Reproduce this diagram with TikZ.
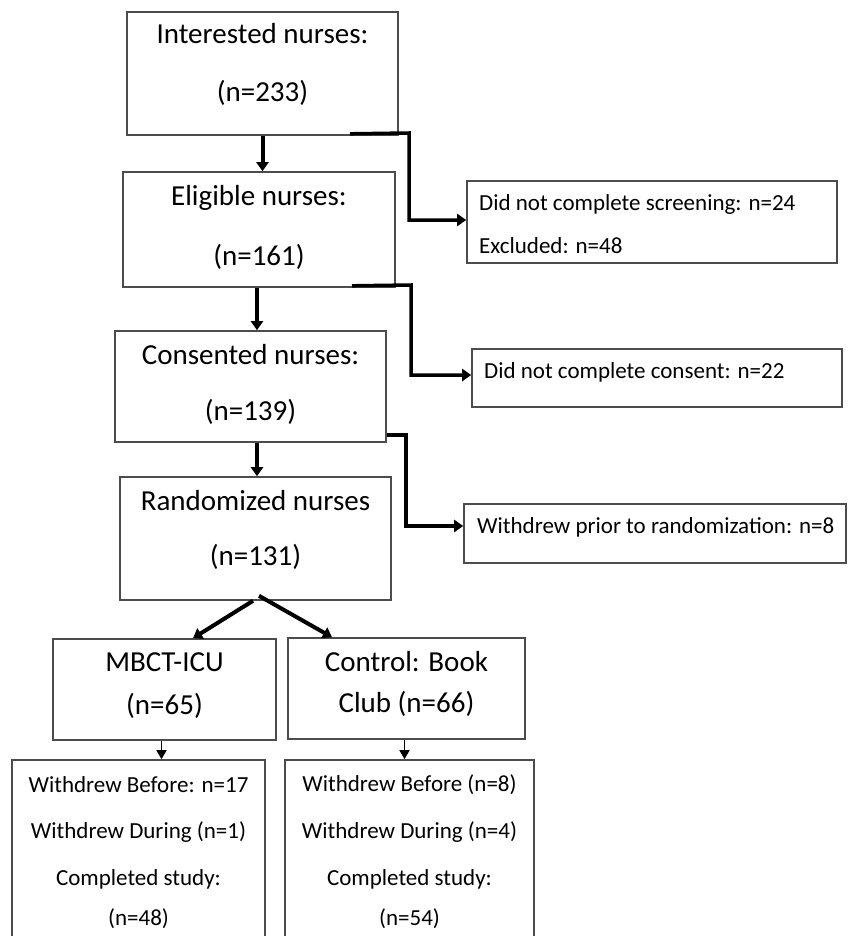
\documentclass[tikz,border=0pt]{standalone}
\usepackage{fontspec}
\setmainfont{Carlito}
\usetikzlibrary{arrows.meta}
\newcommand{\lgfont}{\fontsize{29}{35}\selectfont}
\newcommand{\smfont}{\fontsize{23}{28}\selectfont}
\tikzset{
  box/.style={draw=black!70, line width=1.6pt, rectangle, inner sep=0pt},
  lg/.style={font=\lgfont, inner sep=0pt, text height=16.4pt, text depth=0pt},
  sm/.style={font=\smfont, inner sep=0pt, text height=17.6pt, text depth=0pt},
  arr/.style={line width=4pt, -{Triangle[length=9pt,width=12pt]}},
  elb/.style={line width=3.5pt, -{Triangle[length=9pt,width=12pt]}},
  sarr/.style={line width=1.4pt, -{Triangle[length=9pt,width=10pt]}}
}
\begin{document}
\begin{tikzpicture}[x=1pt,y=-1pt]
\useasboundingbox (0,0) rectangle (848,936);
\fill[white] (0,0) rectangle (848,936);
\clip (0,0) rectangle (848,936);

% main column boxes
\node[box, minimum width=271pt, minimum height=123pt] (b1) at (262.5,73.5) {};
\node[box, minimum width=272pt, minimum height=115pt] (b2) at (259,229.5) {};
\node[box, minimum width=271pt, minimum height=111pt] (b3) at (250.5,386.5) {};
\node[box, minimum width=271pt, minimum height=123pt] (b4) at (255.5,538.5) {};

% side boxes
\node[box, minimum width=370pt, minimum height=82pt] (r1) at (652,222) {};
\node[box, minimum width=370pt, minimum height=58pt] (r2) at (657,378) {};
\node[box, minimum width=382pt, minimum height=59pt] (r3) at (655,533.5) {};

% arms
\node[box, minimum width=223pt, minimum height=101pt] (m) at (164.5,689.5) {};
\node[box, minimum width=237pt, minimum height=101pt] (c) at (406.5,688.5) {};
\node[box, minimum width=253pt, minimum height=185pt] (bl) at (138.5,852.5) {};
\node[box, minimum width=249pt, minimum height=185pt] (br) at (409.5,852.5) {};

% texts
\node[lg] (t1a) at (262.5,35) {Interested nurses:};
\node[lg] (t1b) at (262.5,93) {(n=233)};
\node[lg] (t2a) at (259,197) {Eligible nurses:};
\node[lg] (t2b) at (259,257) {(n=161)};
\node[lg] (t3a) at (250.5,356) {Consented nurses:};
\node[lg] (t3b) at (250.5,412) {(n=139)};
\node[lg] (t4a) at (255.5,502) {Randomized nurses};
\node[lg] (t4b) at (255.5,557) {(n=131)};

\node[sm, anchor=west] (s1a) at (479,202) {Did not complete screening: n=24};
\node[sm, anchor=west] (s1b) at (479,245) {Excluded: n=48};
\node[sm, anchor=west] (s2a) at (484,370) {Did not complete consent: n=22};
\node[sm, anchor=west] (s3a) at (477,525) {Withdrew prior to randomization: n=8};

\node[lg] (tma) at (164.5,663) {MBCT-ICU};
\node[lg] (tmb) at (164.5,706) {(n=65)};
\node[lg] (tca) at (406.5,663) {Control: Book};
\node[lg] (tcb) at (406.5,704) {Club (n=66)};

\node[sm] (bla) at (138.5,784) {Withdrew Before: n=17};
\node[sm] (blb) at (138.5,830) {Withdrew During (n=1)};
\node[sm] (blc) at (138.5,877) {Completed study:};
\node[sm] (bld) at (138.5,917) {(n=48)};
\node[sm] (bra) at (409.5,783) {Withdrew Before (n=8)};
\node[sm] (brb) at (409.5,830) {Withdrew During (n=4)};
\node[sm] (brc) at (409.5,877) {Completed study:};
\node[sm] (brd) at (409.5,917) {(n=54)};

% vertical arrows
\draw[arr] (b1.south) -- (b1.south |- b2.north);
\draw[arr] ([xshift=-2pt]b2.south) -- ([xshift=-2pt]b2.south |- b3.north);
\draw[arr] ([xshift=6.5pt]b3.south) -- ([xshift=6.5pt]b3.south |- b4.north);

% elbows
\coordinate (e1) at (409,133);
\coordinate (e2) at (411,285);
\coordinate (e3) at (406,435);
\draw[elb] ([xshift=87.5pt,yshift=2pt]b1.south) -- (e1) |- ([yshift=2pt]r1.west);
\draw[elb] ([xshift=93pt,yshift=2pt]b2.south) -- (e2) |- ([yshift=3pt]r2.west);
\draw[elb] ([yshift=-48.5pt]b3.east) -- (e3) |- ([yshift=7.5pt]r3.west);

% split
\draw[arr] ([xshift=-2.5pt]b4.south) -- ([xshift=28.5pt]m.north);
\draw[arr] ([xshift=3.5pt,yshift=5pt]b4.south) -- ([xshift=-74.5pt]c.north);

% small arrows
\draw[sarr] ([xshift=-3pt]m.south) -- ([xshift=-3pt]m.south |- bl.north);
\draw[sarr] ([xshift=-2pt]c.south) -- ([xshift=-2pt]c.south |- br.north);
\end{tikzpicture}
\end{document}
